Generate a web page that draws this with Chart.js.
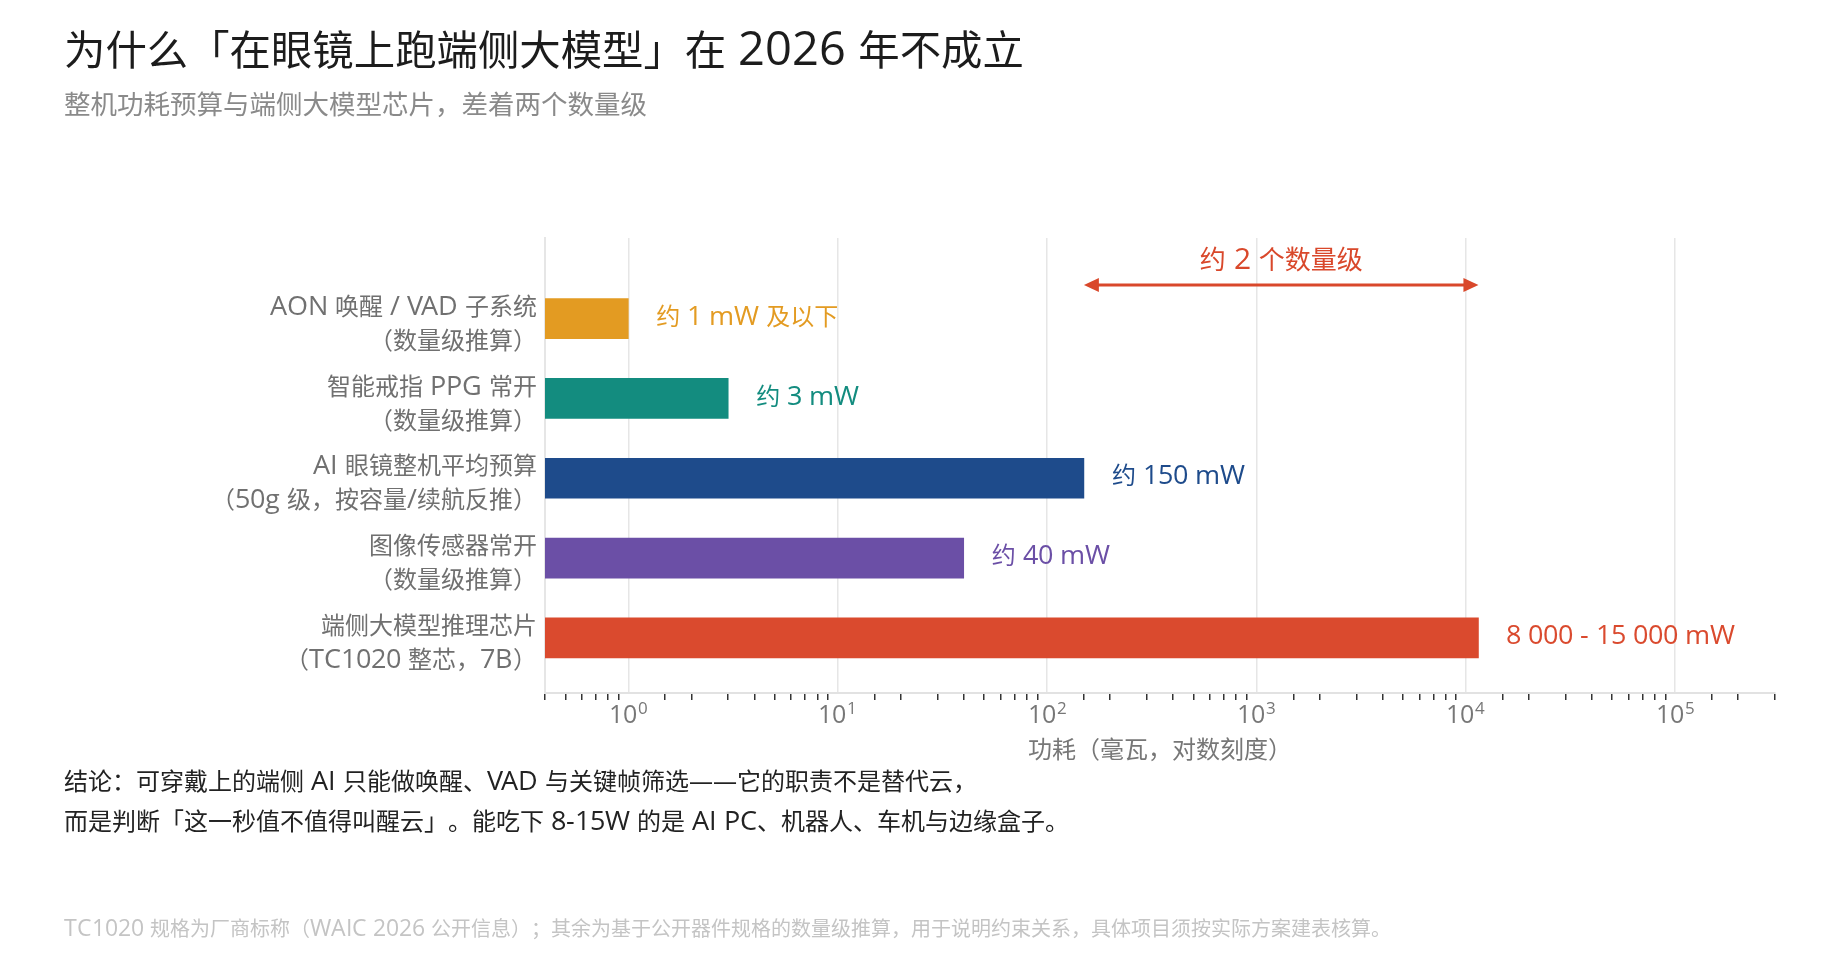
<!DOCTYPE html>
<html lang="zh-CN">
<head>
<meta charset="utf-8">
<title>端侧大模型功耗</title>
<script src="https://cdn.jsdelivr.net/npm/chart.js@4.4.1/dist/chart.umd.min.js"></script>
<style>
  /* wider latin next to the CJK glyphs, the way the original font sets it */
  @font-face {
    font-family: 'LatinX';
    src: local('Open Sans'), local('Open Sans Regular'), local('OpenSans-Regular');
    size-adjust: 114%;
    unicode-range: U+0020-02FF, U+2070-209F;
  }
  html, body { margin: 0; padding: 0; background: #fff; }
  body { width: 1847px; height: 957px; position: relative; overflow: hidden;
         font-family: 'LatinX', 'Open Sans', 'Noto Sans CJK SC', sans-serif;
         text-spacing-trim: space-all; }
  #wrap { position: absolute; left: 0; top: 0; width: 1847px; height: 957px; }
  .txt { position: absolute; left: 64px; white-space: nowrap; line-height: 1; }
  #title { top: 27px; font-size: 41.4px; color: #1c1c1c; }
  #subtitle { top: 90px; font-size: 26.5px; color: #8a8a8a; }
  #conclusion { top: 760px; font-size: 24px; color: #222; line-height: 40px; }
  #footnote { top: 918px; font-size: 20px; color: #c4c4c4; }
</style>
</head>
<body>
<div id="wrap"><canvas id="powerChart"></canvas></div>
<div class="txt" id="title">为什么「在眼镜上跑端侧大模型」在 2026 年不成立</div>
<div class="txt" id="subtitle">整机功耗预算与端侧大模型芯片，差着两个数量级</div>
<div class="txt" id="conclusion">结论：可穿戴上的端侧 AI 只能做唤醒、VAD 与关键帧筛选——它的职责不是替代云，<br>而是判断「这一秒值不值得叫醒云」。能吃下 8-15W 的是 AI PC、机器人、车机与边缘盒子。</div>
<div class="txt" id="footnote">TC1020 规格为厂商标称（WAIC 2026 公开信息）；其余为基于公开器件规格的数量级推算，用于说明约束关系，具体项目须按实际方案建表核算。</div>

<script>
const categoryLines = [
  ['AON 唤醒 / VAD 子系统', '（数量级推算）'],
  ['智能戒指 PPG 常开', '（数量级推算）'],
  ['AI 眼镜整机平均预算', '（50g 级，按容量/续航反推）'],
  ['图像传感器常开', '（数量级推算）'],
  ['端侧大模型推理芯片', '（TC1020 整芯，7B）']
];
const powerMw = [1, 3, 150, 40, 11500];
const valueLabels = ['约 1 mW 及以下', '约 3 mW', '约 150 mW', '约 40 mW', '8 000 - 15 000 mW'];
const barColors = ['#E39B22', '#138C7F', '#1E4B8B', '#6B4FA6', '#DA4A2E'];
const axisMin = 0.4;
const axisMax = 300000;
const gapFrom = 150;
const gapTo = 11500;
const gapLabel = '约 2 个数量级';
const axisTitle = '功耗（毫瓦，对数刻度）';

const FONT = "'LatinX', 'Open Sans', 'Noto Sans CJK SC', sans-serif";

function isPow10(v) {
  const e = Math.log10(v);
  return Math.abs(e - Math.round(e)) < 1e-9;
}

// value labels, the "two orders" arrow and the 10^n tick labels
const annotate = {
  id: 'annotate',
  afterDatasetsDraw(chart) {
    const ctx = chart.ctx;
    const meta = chart.getDatasetMeta(0);
    ctx.save();
    ctx.font = '24px ' + FONT;
    ctx.textAlign = 'left';
    ctx.textBaseline = 'middle';
    meta.data.forEach((bar, i) => {
      ctx.fillStyle = barColors[i];
      ctx.fillText(valueLabels[i], bar.x + 28, bar.y - 1);
    });

    const xs = chart.scales.x, ys = chart.scales.y;
    const x1 = xs.getPixelForValue(gapFrom);
    const x2 = xs.getPixelForValue(gapTo);
    const y = ys.getPixelForValue(-0.42);
    const head = 15, half = 7;
    const red = '#D9482B';
    ctx.strokeStyle = red;
    ctx.fillStyle = red;
    ctx.lineWidth = 3;
    ctx.beginPath();
    ctx.moveTo(x1 + head - 2, y);
    ctx.lineTo(x2 - head + 2, y);
    ctx.stroke();
    ctx.beginPath();
    ctx.moveTo(x1, y); ctx.lineTo(x1 + head, y - half); ctx.lineTo(x1 + head, y + half); ctx.closePath();
    ctx.fill();
    ctx.beginPath();
    ctx.moveTo(x2, y); ctx.lineTo(x2 - head, y - half); ctx.lineTo(x2 - head, y + half); ctx.closePath();
    ctx.fill();
    ctx.font = '26px ' + FONT;
    ctx.textAlign = 'center';
    ctx.fillText(gapLabel, (x1 + x2) / 2, ys.getPixelForValue(-0.72));
    ctx.restore();
  },
  afterDraw(chart) {
    const ctx = chart.ctx;
    const xs = chart.scales.x;
    const base = xs.top + 30;
    ctx.save();
    ctx.fillStyle = '#777';
    ctx.textAlign = 'left';
    ctx.textBaseline = 'alphabetic';
    xs.ticks.forEach(t => {
      if (!isPow10(t.value)) return;
      const exp = String(Math.round(Math.log10(t.value)));
      ctx.font = '22px ' + FONT;
      const w1 = ctx.measureText('10').width;
      ctx.font = '15px ' + FONT;
      const w2 = ctx.measureText(exp).width;
      const x = xs.getPixelForValue(t.value) - (w1 + w2 + 1) / 2;
      ctx.font = '22px ' + FONT;
      ctx.fillText('10', x, base);
      ctx.font = '15px ' + FONT;
      ctx.fillText(exp, x + w1 + 1, base - 9);
    });
    ctx.restore();
  }
};

function buildChart() {
  new Chart(document.getElementById('powerChart'), {
    type: 'bar',
    data: {
      datasets: [{
        data: powerMw.map((v, i) => ({ x: v, y: i })),
        backgroundColor: barColors,
        borderWidth: 0,
        barThickness: 40
      }]
    },
    options: {
      indexAxis: 'y',
      responsive: true,
      maintainAspectRatio: false,
      animation: false,
      layout: { padding: { left: 0, right: 72, top: 238, bottom: 192 } },
      plugins: {
        legend: { display: false },
        tooltip: { enabled: false }
      },
      scales: {
        x: {
          type: 'logarithmic',
          min: axisMin,
          max: axisMax,
          afterFit(scale) { scale.height = 72; },
          grid: {
            color: ctx => (ctx.tick && isPow10(ctx.tick.value)) ? '#e6e6e6' : 'rgba(0,0,0,0)',
            lineWidth: 1.5,
            tickLength: 7,
            tickWidth: 1.5,
            tickColor: ctx => (ctx.tick && !isPow10(ctx.tick.value)) ? '#333' : 'rgba(0,0,0,0)'
          },
          border: { display: true, color: '#e2e2e2', width: 2 },
          ticks: {
            autoSkip: false,
            maxRotation: 0,
            padding: 1,
            font: { family: FONT, size: 22 },
            callback: () => ''
          },
          title: {
            display: true,
            text: axisTitle,
            color: '#777',
            font: { family: FONT, size: 24 },
            padding: { top: 0, bottom: 0 }
          }
        },
        y: {
          type: 'linear',
          reverse: true,
          offset: false,
          min: -1.01,
          max: 4.69,
          afterFit(scale) { scale.width = 545; },
          afterBuildTicks(scale) { scale.ticks = categoryLines.map((_, i) => ({ value: i })); },
          grid: { display: false, drawTicks: false, offset: false },
          border: { display: true, color: '#e6e6e6', width: 2 },
          ticks: {
            padding: 8,
            labelOffset: 6,
            color: '#707070',
            font: { family: FONT, size: 24, lineHeight: 1.42 },
            callback: v => categoryLines[v] || ''
          }
        }
      }
    },
    plugins: [annotate]
  });
}

document.fonts.load('24px LatinX').catch(() => {}).then(buildChart);
</script>
</body>
</html>
